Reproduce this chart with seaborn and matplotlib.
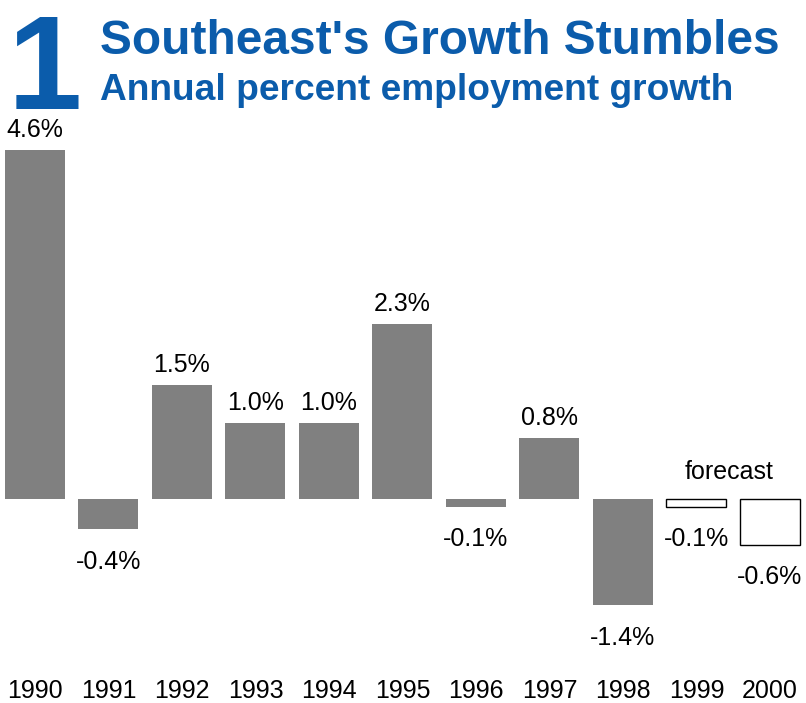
import matplotlib
matplotlib.use("Agg")
import matplotlib.pyplot as plt
import seaborn as sns
import pandas as pd

years = ["1990", "1991", "1992", "1993", "1994", "1995", "1996", "1997", "1998", "1999", "2000"]
growth = [4.6, -0.4, 1.5, 1.0, 1.0, 2.3, -0.1, 0.8, -1.4, -0.1, -0.6]
kind = ["actual"] * 9 + ["forecast"] * 2

BLUE = "#0B5CAB"
GRAY = "#808080"

sns.set_style("white")
plt.rcParams['font.family'] = ['Liberation Sans', 'DejaVu Sans']
plt.rcParams['text.color'] = 'black'
plt.rcParams['xtick.color'] = 'black'

df = pd.DataFrame({"year": years, "growth": growth, "kind": kind})

fig = plt.figure(figsize=(8.06, 7.03), dpi=100)
ax = fig.add_axes([0, 38 / 703, 1, 665 / 703])

sns.barplot(data=df, x="year", y="growth", hue="kind", order=years,
            palette={"actual": GRAY, "forecast": "white"},
            dodge=False, width=0.816, legend=False, ax=ax, saturation=1)

# forecast years are drawn as outlined boxes
for p, k in zip(ax.patches, kind):
    if k == "forecast":
        p.set_edgecolor("black")
        p.set_linewidth(1.0)
    else:
        p.set_edgecolor("none")

for i, v in enumerate(growth):
    if v >= 0:
        ax.annotate(f"{v:.1f}%", (i, v), xytext=(0, 6), textcoords="offset points",
                    ha="center", va="bottom", fontsize=18)
    else:
        ax.annotate(f"{v:.1f}%", (i, v), xytext=(0, -15), textcoords="offset points",
                    ha="center", va="top", fontsize=18)

ax.text(9.45, 0.2, "forecast", ha="center", va="bottom", fontsize=18)

ax.set_xlim(-0.476, 10.49)
ax.set_ylim(-2.187, 6.574)
ax.set_xlabel("")
ax.set_ylabel("")
ax.set_yticks([])
ax.tick_params(axis="x", length=0, pad=10, labelsize=18, labelcolor="black")
sns.despine(ax=ax, left=True, bottom=True)

fig.text(8 / 806, 1 - 109 / 703, "1", color=BLUE, fontsize=96, fontweight="heavy",
         family="Liberation Sans", ha="left", va="baseline")
fig.text(100 / 806, 1 - 54 / 703, "Southeast's Growth Stumbles", color=BLUE,
         fontsize=34.5, fontweight="bold", family="Liberation Sans", ha="left", va="baseline")
fig.text(100 / 806, 1 - 100 / 703, "Annual percent employment growth", color=BLUE,
         fontsize=26.7, fontweight="bold", family="Liberation Sans", ha="left", va="baseline")

fig.savefig("out.png", dpi=100)
